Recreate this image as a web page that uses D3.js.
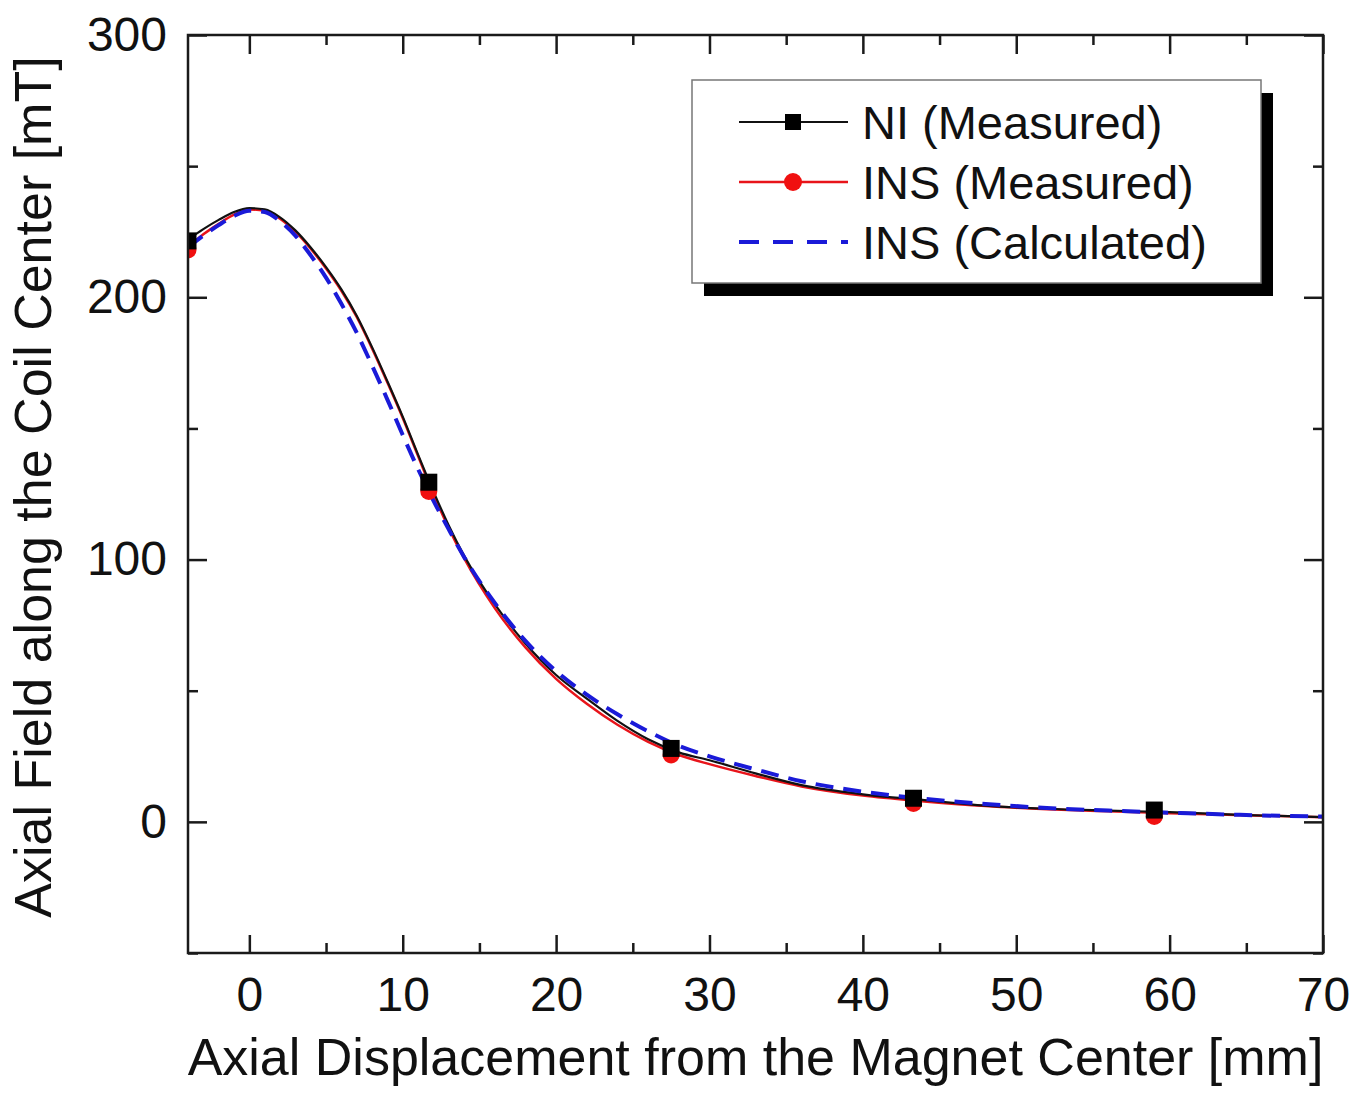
<!DOCTYPE html>
<html>
<head>
<meta charset="utf-8">
<script src="https://cdn.jsdelivr.net/npm/d3@7"></script>
<style>
  html, body { margin: 0; padding: 0; background: #fff; }
  svg { display: block; font-family: "Liberation Sans", Arial, sans-serif; }
</style>
</head>
<body>
<div id="chart"></div>
<script>
// ---- data (mm, mT)
const curveX   = [-4, -3, -2, -1, 0, 1, 2, 3, 4, 5, 6, 7, 8, 9, 10, 11, 12, 13, 14, 16, 18, 20, 22, 24, 26, 28, 30, 33, 36, 40, 44, 48, 52, 56, 60, 65, 70];
const niCurve  = [222, 226, 229.5, 232.5, 234, 233.5, 230.5, 225.5, 219, 211.5, 203, 193, 181, 168, 154.5, 140, 126, 113, 101.5, 83, 68, 56, 47, 38.5, 31.5, 26.5, 23.5, 18.5, 14, 10.5, 8.3, 6.2, 5, 4.3, 3.7, 2.6, 1.8];
const insCurve = [219, 224, 228, 231.5, 233.5, 233, 230, 225, 218.5, 211, 202.5, 192.5, 180.5, 167.5, 154, 139.5, 125, 112, 100.5, 81.5, 66.5, 54.5, 45, 37, 30.5, 25.5, 22, 17.5, 13.5, 10, 7.8, 6, 4.8, 4, 3.3, 2.5, 1.8];
const calcCurve= [219, 223.5, 227.5, 231, 233, 232.5, 229, 223.5, 216, 207.5, 197.5, 186.5, 174, 161, 147.5, 134.5, 122.5, 111.5, 101, 83.5, 69, 57.5, 48.5, 41, 34.5, 29, 25, 20, 15.5, 11.5, 8.8, 6.8, 5.3, 4.3, 3.5, 2.6, 2];

const markX    = [-4, 11.7, 27.5, 43.3, 59];
const niMark   = [221.5, 129.5, 28, 9, 4.5];
const insMark  = [218, 126, 25.5, 7, 2];

const xMajor = [0, 10, 20, 30, 40, 50, 60, 70];
const xMinor = [5, 15, 25, 35, 45, 55, 65];
const yMajor = [0, 100, 200, 300];
const yMinor = [-50, 50, 150, 250];

const legendLabels = ['NI (Measured)', 'INS (Measured)', 'INS (Calculated)'];

// ---- layout
const W = 1371, H = 1096;
const L = 188, R = 1323, T = 35, B = 953;

const svg = d3.select('#chart').append('svg')
  .attr('width', W).attr('height', H);

svg.append('rect').attr('width', W).attr('height', H).attr('fill', '#fff');

const x = d3.scaleLinear().domain([-4, 70]).range([L, R]);
const y = d3.scaleLinear().domain([-50, 300]).range([B, T]);

svg.append('defs').append('clipPath').attr('id', 'plotclip')
  .append('rect').attr('x', L).attr('y', T).attr('width', R - L).attr('height', B - T);

// ---- axes (inward ticks on all four sides)
const axisStyle = g => {
  g.select('.domain').remove();
  g.selectAll('.tick line').attr('stroke', '#1a1a1a').attr('stroke-width', 2.5);
  g.selectAll('.tick text').attr('fill', '#111').style('font-size', '48px');
};

svg.append('g').attr('transform', `translate(0,${B})`)
  .call(d3.axisBottom(x).tickValues(xMajor).tickSize(-18).tickSizeOuter(0).tickPadding(24).tickFormat(d3.format('d')))
  .call(axisStyle);
svg.append('g').attr('transform', `translate(0,${B})`)
  .call(d3.axisBottom(x).tickValues(xMinor).tickSize(-10).tickSizeOuter(0).tickFormat(''))
  .call(axisStyle);
svg.append('g').attr('transform', `translate(0,${T})`)
  .call(d3.axisTop(x).tickValues(xMajor).tickSize(-19).tickSizeOuter(0).tickFormat(''))
  .call(axisStyle);
svg.append('g').attr('transform', `translate(0,${T})`)
  .call(d3.axisTop(x).tickValues(xMinor).tickSize(-10).tickSizeOuter(0).tickFormat(''))
  .call(axisStyle);

svg.append('g').attr('transform', `translate(${L},0)`)
  .call(d3.axisLeft(y).tickValues(yMajor).tickSize(-19).tickSizeOuter(0).tickPadding(21).tickFormat(d3.format('d')))
  .call(axisStyle);
svg.append('g').attr('transform', `translate(${L},0)`)
  .call(d3.axisLeft(y).tickValues(yMinor).tickSize(-10).tickSizeOuter(0).tickFormat(''))
  .call(axisStyle);
svg.append('g').attr('transform', `translate(${R},0)`)
  .call(d3.axisRight(y).tickValues(yMajor).tickSize(-19).tickSizeOuter(0).tickFormat(''))
  .call(axisStyle);
svg.append('g').attr('transform', `translate(${R},0)`)
  .call(d3.axisRight(y).tickValues(yMinor).tickSize(-10).tickSizeOuter(0).tickFormat(''))
  .call(axisStyle);

// ---- curves
const plot = svg.append('g').attr('clip-path', 'url(#plotclip)');
const line = d3.line().x(d => x(d[0])).y(d => y(d[1])).curve(d3.curveMonotoneX);
const zip = (xs, ys) => xs.map((v, i) => [v, ys[i]]);

plot.append('path').datum(zip(curveX, insCurve))
  .attr('d', line).attr('fill', 'none').attr('stroke', '#e8141a').attr('stroke-width', 2.5);
plot.append('path').datum(zip(curveX, niCurve))
  .attr('d', line).attr('fill', 'none').attr('stroke', '#111').attr('stroke-width', 2.2);
plot.append('path').datum(zip(curveX, calcCurve))
  .attr('d', line).attr('fill', 'none').attr('stroke', '#1a1ad8').attr('stroke-width', 4)
  .attr('stroke-dasharray', '18,10');

plot.selectAll('.ins-pt').data(zip(markX, insMark)).join('circle')
  .attr('cx', d => x(d[0])).attr('cy', d => y(d[1])).attr('r', 8.5).attr('fill', '#f01010');
plot.selectAll('.ni-pt').data(zip(markX, niMark)).join('rect')
  .attr('x', d => x(d[0]) - 8.5).attr('y', d => y(d[1]) - 8.5)
  .attr('width', 17).attr('height', 17).attr('fill', '#000');

// ---- frame
svg.append('rect').attr('x', L).attr('y', T).attr('width', R - L).attr('height', B - T)
  .attr('fill', 'none').attr('stroke', '#1a1a1a').attr('stroke-width', 2.5);

// ---- axis titles
svg.append('text')
  .attr('x', (L + R) / 2).attr('y', 1075)
  .attr('text-anchor', 'middle').attr('fill', '#111')
  .style('font-size', '52px')
  .text('Axial Displacement from the Magnet Center [mm]');

svg.append('text')
  .attr('transform', `translate(51,${(T + B) / 2 - 7}) rotate(-90)`)
  .attr('text-anchor', 'middle').attr('fill', '#111')
  .style('font-size', '52px')
  .text('Axial Field along the Coil Center [mT]');

// ---- legend with drop shadow
const lg = svg.append('g');
lg.append('rect').attr('x', 704).attr('y', 93).attr('width', 569).attr('height', 203).attr('fill', '#000');
lg.append('rect').attr('x', 692).attr('y', 80).attr('width', 569).attr('height', 203)
  .attr('fill', '#fff').attr('stroke', '#777').attr('stroke-width', 1.5);

const rowY = [122, 182, 242];
const lx0 = 739, lx1 = 848, lmx = 793;

lg.append('line').attr('x1', lx0).attr('x2', lx1).attr('y1', rowY[0]).attr('y2', rowY[0])
  .attr('stroke', '#111').attr('stroke-width', 2.2);
lg.append('rect').attr('x', lmx - 8).attr('y', rowY[0] - 8).attr('width', 16).attr('height', 16).attr('fill', '#000');

lg.append('line').attr('x1', lx0).attr('x2', lx1).attr('y1', rowY[1]).attr('y2', rowY[1])
  .attr('stroke', '#e8141a').attr('stroke-width', 2.5);
lg.append('circle').attr('cx', lmx).attr('cy', rowY[1]).attr('r', 9).attr('fill', '#f01010');

lg.append('line').attr('x1', lx0).attr('x2', lx1).attr('y1', rowY[2]).attr('y2', rowY[2])
  .attr('stroke', '#1a1ad8').attr('stroke-width', 4).attr('stroke-dasharray', '20,14');

lg.selectAll('.lbl').data(legendLabels).join('text')
  .attr('x', 862).attr('y', (d, i) => rowY[i] + 17)
  .attr('fill', '#111').style('font-size', '47px')
  .text(d => d);
</script>
</body>
</html>
